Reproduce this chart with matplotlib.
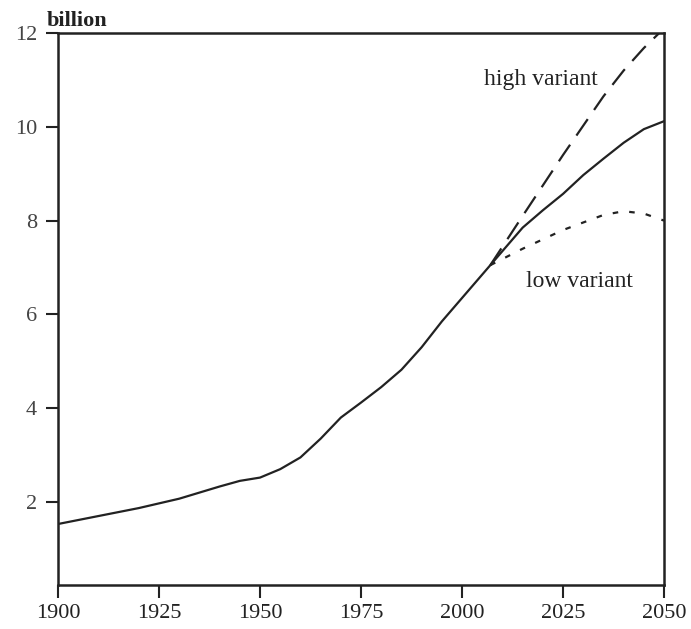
import numpy as np
import matplotlib.pyplot as plt

# world population, billion
years = [1900, 1910, 1920, 1930, 1940, 1945, 1950, 1955, 1960, 1965, 1970,
         1975, 1980, 1985, 1990, 1995, 2000, 2005, 2010, 2015, 2020, 2025,
         2030, 2035, 2040, 2045, 2050]
medium = [1.53, 1.70, 1.87, 2.07, 2.33, 2.45, 2.52, 2.70, 2.95, 3.35, 3.80,
          4.12, 4.45, 4.82, 5.30, 5.85, 6.35, 6.85, 7.35, 7.85, 8.22, 8.57,
          8.97, 9.32, 9.66, 9.95, 10.12]

proj_years = [2007, 2015, 2025, 2035, 2040, 2045, 2050]
high = [7.05, 8.10, 9.40, 10.65, 11.20, 11.68, 12.10]
low = [7.05, 7.40, 7.80, 8.12, 8.20, 8.15, 8.00]

xticks = [1900, 1925, 1950, 1975, 2000, 2025, 2050]
yticks = [2, 4, 6, 8, 10, 12]

plt.rcParams['font.family'] = ['Liberation Serif', 'DejaVu Serif']
ink = '#222222'

fig = plt.figure(figsize=(6.91, 6.29), dpi=100)
ax = fig.add_axes([0.084, 0.070, 0.877, 0.8775])

ax.plot(years, medium, color=ink, lw=1.6)
ax.plot(proj_years, high, color=ink, lw=1.6, dashes=(9, 5))
ax.plot(proj_years, low, color=ink, lw=1.6, dashes=(2.5, 5))

ax.set_xlim(1900, 2050)
ax.set_ylim(0.23, 12)
ax.set_xticks(xticks)
ax.set_yticks(yticks)
ax.tick_params(axis='both', direction='out', length=9, width=1.5,
               colors=ink, labelsize=16, pad=5)
ax.tick_params(axis='y', labelcolor='#444444', pad=6)
for s in ax.spines.values():
    s.set_linewidth(1.8)
    s.set_color(ink)

ax.text(-0.018, 1.003, 'billion', transform=ax.transAxes, fontsize=16,
        fontweight='bold', color=ink, ha='left', va='bottom')
ax.text(2019.5, 11.0, 'high variant', fontsize=17, color=ink,
        ha='center', va='center')
ax.text(2029, 6.7, 'low variant', fontsize=17, color=ink,
        ha='center', va='center')

fig.savefig('out.png', dpi=100)
